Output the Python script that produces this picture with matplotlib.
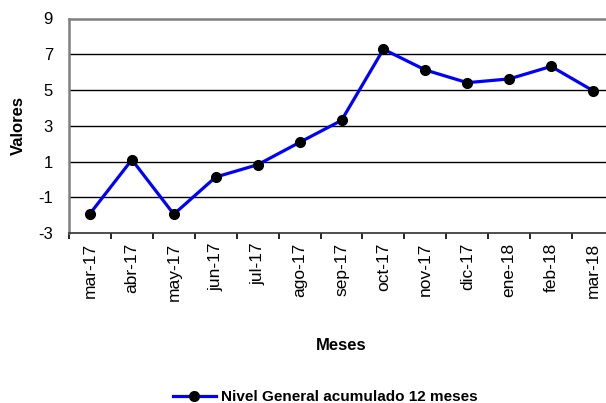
import matplotlib
matplotlib.use("Agg")
import matplotlib.pyplot as plt
import numpy as np

plt.rcParams['font.family'] = ['Liberation Sans', 'DejaVu Sans']

months = ["mar-17", "abr-17", "may-17", "jun-17", "jul-17", "ago-17", "sep-17",
          "oct-17", "nov-17", "dic-17", "ene-18", "feb-18", "mar-18"]
values = [-1.92, 1.1, -1.95, 0.13, 0.82, 2.07, 3.30, 7.28, 6.12, 5.41, 5.62, 6.32, 4.96]
yticks = [-3, -1, 1, 3, 5, 7, 9]
series_name = "Nivel General acumulado 12 meses"

fig = plt.figure(figsize=(6.06, 4.03), dpi=100)
ax = fig.add_axes([69/606, 170/403, 545/606, 214.5/403])

x = np.arange(len(months))
ax.plot(x, values, color='#0000FF', lw=2.3, marker='o', markersize=7,
        markerfacecolor='black', markeredgecolor='black', label=series_name, zorder=3)

ax.set_xlim(-0.5, len(months) - 0.5)
ax.set_ylim(-3, 9)
ax.set_yticks(yticks)
ax.set_yticklabels([str(t) for t in yticks])
for t in yticks[1:-1]:
    ax.axhline(t, color='black', lw=1.0, zorder=1)

ax.set_xticks(x)
ax.set_xticklabels(months, rotation=90)
ax.set_xticks(np.arange(-0.5, len(months), 1), minor=True)
ax.tick_params(axis='x', which='major', length=0, pad=7, labelsize=12.5)
ax.tick_params(axis='x', which='minor', length=4, width=1.2, direction='out', color='black')
ax.tick_params(axis='y', length=0, pad=11.5, labelsize=12)

for s in ['top', 'left']:
    ax.spines[s].set_color('#808080')
    ax.spines[s].set_linewidth(1.8)
ax.spines['right'].set_visible(False)
ax.spines['bottom'].set_color('#404040')
ax.spines['bottom'].set_linewidth(1.3)

ax.set_xlabel("Meses", fontsize=12, fontweight='bold', labelpad=27)
ax.set_ylabel("Valores", fontsize=12, fontweight='bold', labelpad=9)

fig.legend(loc='center', bbox_to_anchor=(0.537, 0.014), frameon=False,
           prop={'size': 11, 'weight': 'bold'}, handlelength=2.8, handletextpad=0.35)

fig.savefig("out.png", dpi=100)
